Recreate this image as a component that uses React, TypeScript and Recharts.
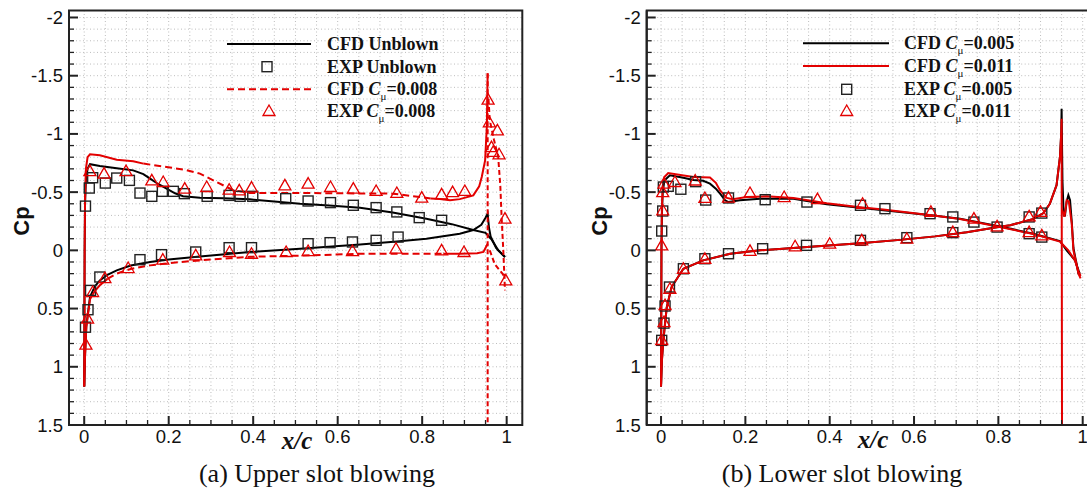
import React from "react";
import {
  ComposedChart,
  Line,
  Scatter,
  XAxis,
  YAxis,
  CartesianGrid,
  ReferenceArea,
} from "recharts";

// ---- axes ----
const X_TICKS = [0, 0.05, 0.1, 0.15, 0.2, 0.25, 0.3, 0.35, 0.4, 0.45, 0.5, 0.55, 0.6, 0.65, 0.7, 0.75, 0.8, 0.85, 0.9, 0.95, 1];
const X_LABELS = [0, 0.2, 0.4, 0.6, 0.8, 1];
const Y_TICKS = [
  -2, -1.9, -1.8, -1.7, -1.6, -1.5, -1.4, -1.3, -1.2, -1.1, -1, -0.9, -0.8, -0.7, -0.6, -0.5, -0.4, -0.3, -0.2, -0.1,
  0, 0.1, 0.2, 0.3, 0.4, 0.5, 0.6, 0.7, 0.8, 0.9, 1, 1.1, 1.2, 1.3, 1.4, 1.5,
];
const Y_LABELS = [-2, -1.5, -1, -0.5, 0, 0.5, 1, 1.5];
const Y_DOMAIN: [number, number] = [-2.06, 1.5];

// ---- (a) upper slot blowing : [x/c, Cp] ----
const cfdUnblownUpper = [
  [0, 1.17], [0.0005, 0.6], [0.001, 0], [0.002, -0.4], [0.004, -0.6], [0.008, -0.7], [0.0137, -0.74], [0.037, -0.724],
  [0.077, -0.705], [0.116, -0.687], [0.14, -0.655], [0.156, -0.616], [0.175, -0.57], [0.195, -0.53], [0.215, -0.49],
  [0.234, -0.465], [0.274, -0.452], [0.33, -0.447], [0.392, -0.438], [0.45, -0.42], [0.511, -0.4], [0.58, -0.385],
  [0.653, -0.365], [0.73, -0.325], [0.81, -0.272], [0.87, -0.225], [0.921, -0.175], [0.95, -0.15], [0.965, -0.09],
  [0.98, 0], [0.996, 0.057],
];
const cfdUnblownLower = [
  [0, 1.17], [0.002, 0.9], [0.005, 0.65], [0.0137, 0.4], [0.025, 0.31], [0.037, 0.258], [0.055, 0.21], [0.077, 0.172],
  [0.11, 0.13], [0.156, 0.1], [0.2, 0.078], [0.274, 0.052], [0.392, 0.015], [0.511, -0.014], [0.653, -0.05],
  [0.74, -0.075], [0.81, -0.1], [0.889, -0.143], [0.921, -0.175], [0.94, -0.22], [0.95, -0.28], [0.955, -0.315],
  [0.958, -0.2], [0.962, -0.12], [0.975, -0.02], [0.996, 0.057],
];
const cfdBlownUpperSolidA = [
  [0, 1.17], [0.0005, 0.6], [0.001, 0], [0.002, -0.45], [0.004, -0.7], [0.008, -0.8], [0.0137, -0.825], [0.037, -0.816],
  [0.077, -0.779], [0.116, -0.765], [0.14, -0.745],
];
const cfdBlownUpperDashed = [
  [0.14, -0.745], [0.195, -0.716], [0.24, -0.69], [0.274, -0.659], [0.313, -0.587], [0.353, -0.516], [0.392, -0.493],
  [0.511, -0.493], [0.6, -0.49], [0.731, -0.487], [0.795, -0.458], [0.82, -0.445],
];
const cfdBlownUpperSolidB = [
  [0.82, -0.445], [0.842, -0.44], [0.866, -0.43], [0.889, -0.44], [0.921, -0.472], [0.935, -0.55], [0.941, -0.63],
  [0.949, -0.773], [0.953, -1.06], [0.955, -1.52],
];
const cfdBlownSlotEdge = [[0.955, -1.52], [0.955, 1.6]];
const cfdBlownLowerSolidA = [
  [0, 1.17], [0.002, 0.9], [0.005, 0.66], [0.0137, 0.42], [0.025, 0.35], [0.037, 0.3], [0.055, 0.245],
];
const cfdBlownLowerDashed = [
  [0.055, 0.245], [0.077, 0.2], [0.11, 0.16], [0.156, 0.129], [0.2, 0.11], [0.274, 0.086], [0.392, 0.055],
  [0.511, 0.045], [0.653, 0.03], [0.85, 0.029],
];
const cfdBlownLowerSolidB = [[0.85, 0.029], [0.889, 0.029], [0.93, 0.025], [0.945, 0.014], [0.955, -0.057]];
const cfdBlownFlapUpper = [
  [0.957, -1.3], [0.96, -1.117], [0.97, -0.95], [0.98, -0.8], [0.985, -0.55], [0.988, -0.287], [0.992, 0], [0.996, 0.344],
];
const cfdBlownFlapLower = [[0.96, 0], [0.972, 0.12], [0.99, 0.2], [0.997, 0.24]];

const expUnblown = [
  [0.003, -0.38], [0.012, -0.535], [0.02, -0.624], [0.05, -0.578], [0.077, -0.621], [0.107, -0.601], [0.132, -0.492],
  [0.16, -0.464], [0.185, -0.507], [0.211, -0.507], [0.237, -0.487], [0.291, -0.464], [0.343, -0.472], [0.369, -0.464],
  [0.399, -0.464], [0.477, -0.444], [0.53, -0.424], [0.583, -0.41], [0.637, -0.387], [0.691, -0.367], [0.74, -0.33],
  [0.793, -0.281], [0.846, -0.258],
  [0.003, 0.66], [0.009, 0.51], [0.015, 0.344], [0.037, 0.229], [0.132, 0.08], [0.183, 0.037], [0.264, 0.014],
  [0.343, -0.023], [0.396, -0.023], [0.53, -0.057], [0.582, -0.066], [0.635, -0.072], [0.691, -0.086], [0.743, -0.114],
];
const expBlown = [
  [0.0135, -0.68], [0.047, -0.659], [0.099, -0.681], [0.16, -0.601], [0.187, -0.587], [0.238, -0.53], [0.29, -0.544],
  [0.343, -0.521], [0.367, -0.515], [0.396, -0.539], [0.475, -0.558], [0.53, -0.573], [0.583, -0.544], [0.637, -0.53],
  [0.691, -0.51], [0.74, -0.493], [0.799, -0.453], [0.846, -0.481], [0.872, -0.5], [0.901, -0.51],
  [0.956, -1.294], [0.959, -1.1], [0.978, -1.03], [0.964, -0.887], [0.968, -0.845], [0.982, -0.825], [0.996, -0.272],
  [0.004, 0.81], [0.008, 0.587], [0.02, 0.358], [0.049, 0.238], [0.104, 0.152], [0.186, 0.08], [0.264, 0.043],
  [0.344, 0.014], [0.396, 0.029], [0.478, 0.014], [0.53, 0.006], [0.635, 0.006], [0.738, -0.014], [0.846, 0],
  [0.899, 0.014], [0.998, 0.258],
];

// ---- (b) lower slot blowing ----
const cfd005A = [
  [0, 1.17], [0.0005, 0.6], [0.001, 0], [0.002, -0.3], [0.004, -0.5], [0.008, -0.6], [0.021, -0.644], [0.05, -0.625],
  [0.077, -0.605], [0.1, -0.598], [0.116, -0.573], [0.13, -0.53], [0.14, -0.487], [0.152, -0.43], [0.16, -0.415],
  [0.187, -0.43], [0.235, -0.444], [0.314, -0.444], [0.393, -0.395], [0.472, -0.365], [0.527, -0.345], [0.646, -0.3],
  [0.709, -0.272], [0.804, -0.205], [0.883, -0.143], [0.946, -0.08], [0.962, 0], [0.982, 0.086], [0.99, 0.172],
  [0.993, 0.2],
];
const cfd005B = [
  [0, 1.17], [0.002, 0.95], [0.0055, 0.773], [0.0095, 0.63], [0.0135, 0.49], [0.025, 0.315], [0.053, 0.158],
  [0.1, 0.086], [0.164, 0.029], [0.235, 0], [0.33, -0.025], [0.472, -0.06], [0.567, -0.09], [0.65, -0.12],
  [0.725, -0.155], [0.8, -0.2], [0.828, -0.215], [0.883, -0.27], [0.907, -0.32], [0.922, -0.4], [0.938, -0.56],
  [0.946, -0.8], [0.949, -1], [0.95, -1.217], [0.952, -0.6], [0.955, -0.3], [0.958, -0.3], [0.962, -0.42],
  [0.966, -0.473], [0.97, -0.43], [0.974, -0.25], [0.978, -0.02], [0.985, 0.11], [0.99, 0.2], [0.993, 0.21],
];
const cfd011A = [
  [0, 1.17], [0.0005, 0.6], [0.001, 0], [0.002, -0.35], [0.004, -0.55], [0.008, -0.63], [0.017, -0.664], [0.05, -0.645],
  [0.077, -0.63], [0.116, -0.625], [0.13, -0.58], [0.14, -0.515], [0.156, -0.45], [0.17, -0.44], [0.203, -0.458],
  [0.25, -0.464], [0.314, -0.45], [0.393, -0.405], [0.472, -0.37], [0.527, -0.35], [0.646, -0.3], [0.709, -0.27],
  [0.804, -0.2], [0.883, -0.14], [0.946, -0.075], [0.966, 0], [0.982, 0.09], [0.99, 0.18], [0.995, 0.22],
];
const cfd011B = [
  [0, 1.17], [0.002, 0.95], [0.0055, 0.773], [0.0095, 0.63], [0.0135, 0.49], [0.025, 0.315], [0.053, 0.158],
  [0.1, 0.086], [0.164, 0.029], [0.235, 0], [0.33, -0.025], [0.472, -0.06], [0.567, -0.09], [0.65, -0.12],
  [0.725, -0.155], [0.8, -0.2], [0.828, -0.215], [0.883, -0.27], [0.907, -0.32], [0.922, -0.4], [0.938, -0.56],
  [0.946, -0.8], [0.949, -1], [0.95, -1.13], [0.951, 1.7],
];
const cfd011Flap = [
  [0.951, -0.35], [0.957, -0.29], [0.962, -0.43], [0.967, -0.42], [0.974, -0.23], [0.978, 0], [0.985, 0.115],
  [0.99, 0.2], [0.995, 0.24],
];
const exp005 = [
  [0.0016, -0.166], [0.004, -0.338], [0.0055, -0.544], [0.017, -0.55], [0.047, -0.525], [0.082, -0.59], [0.106, -0.432],
  [0.16, -0.45], [0.247, -0.435], [0.346, -0.415], [0.473, -0.387], [0.531, -0.358], [0.638, -0.315], [0.692, -0.287],
  [0.742, -0.243], [0.797, -0.2], [0.873, -0.143], [0.903, -0.114],
  [0.0016, 0.773], [0.007, 0.625], [0.0095, 0.478], [0.02, 0.315], [0.053, 0.158], [0.104, 0.072], [0.16, 0.029],
  [0.241, -0.014], [0.345, -0.043], [0.473, -0.086], [0.583, -0.109], [0.692, -0.152], [0.873, -0.287], [0.903, -0.32],
];
const exp011 = [
  [0.0016, -0.043], [0.004, -0.344], [0.004, -0.5], [0.007, -0.573], [0.033, -0.587], [0.081, -0.6], [0.104, -0.45],
  [0.16, -0.453], [0.211, -0.493], [0.292, -0.458], [0.371, -0.44], [0.478, -0.4], [0.64, -0.33], [0.742, -0.272],
  [0.797, -0.206], [0.873, -0.157], [0.903, -0.129],
  [0.0016, 0.77], [0.007, 0.616], [0.0095, 0.47], [0.021, 0.33], [0.053, 0.158], [0.104, 0.072], [0.211, 0.005],
  [0.318, -0.035], [0.4, -0.057], [0.476, -0.086], [0.583, -0.1], [0.692, -0.157], [0.873, -0.292], [0.9, -0.33],
];

const pts = (a: number[][]) => a.map(([x, cp]) => ({ x, cp }));

const BLACK = "#000";
const RED = "#e30000";
const AXIS = "#222";
const SANS = "'Liberation Sans', Arial, sans-serif";
const SERIF = "'Liberation Serif', 'Times New Roman', serif";
const DASH = "7 4";

const near = (list: number[], v: number) => list.some((t) => Math.abs(t - v) < 1e-9);

const YTick = (props: any) => {
  const { x, y, payload } = props;
  const major = near(Y_LABELS, payload.value);
  return (
    <g>
      <line x1={x} x2={x + (major ? 9 : 5)} y1={y} y2={y} stroke={AXIS} strokeWidth={major ? 2 : 1.3} />
      {major && (
        <text x={x - 6} y={y + 6.5} textAnchor="end" fontFamily={SANS} fontSize={18.5} fill="#111">
          {String(payload.value)}
        </text>
      )}
    </g>
  );
};

const XTick = (props: any) => {
  const { x, y, payload } = props;
  const major = near(X_LABELS, payload.value);
  return (
    <g>
      <line x1={x} x2={x} y1={y} y2={y - (major ? 9 : 5)} stroke={AXIS} strokeWidth={major ? 2 : 1.3} />
      {major && (
        <text x={x} y={y + 18} textAnchor="middle" fontFamily={SANS} fontSize={18.5} fill="#111">
          {String(payload.value)}
        </text>
      )}
    </g>
  );
};

const SquareMark = (p: any) => (
  <rect x={p.cx - 5} y={p.cy - 5} width={10} height={10} fill="none" stroke="#222" strokeWidth={1.4} />
);
const TriangleMark = (p: any) => (
  <path d={`M${p.cx},${p.cy - 6} L${p.cx + 6},${p.cy + 4.5} L${p.cx - 6},${p.cy + 4.5} Z`} fill="none" stroke={RED} strokeWidth={1.3} />
);

type Curve = { d: number[][]; color: string; dash?: string };

function Panel({
  width,
  left,
  right,
  xDomain,
  curves,
  squares,
  triangles,
}: {
  width: number;
  left: number;
  right: number;
  xDomain: [number, number];
  curves: Curve[];
  squares: number[][];
  triangles: number[][];
}) {
  // axis boxes are 1px wide/tall so they render; margins are reduced by the same amount
  return (
    <ComposedChart width={width} height={495} margin={{ top: 10.5, right, bottom: 69, left: left - 1 }}>
      <CartesianGrid stroke="#bdbdbd" strokeDasharray="1 2.5" strokeWidth={1} />
      <ReferenceArea
        x1={xDomain[0]}
        x2={xDomain[1]}
        y1={Y_DOMAIN[0]}
        y2={Y_DOMAIN[1]}
        ifOverflow="visible"
        fill="none"
        fillOpacity={0}
        stroke={AXIS}
        strokeWidth={2}
      />
      <XAxis
        dataKey="x"
        type="number"
        domain={xDomain}
        allowDataOverflow
        ticks={X_TICKS}
        interval={0}
        height={1}
        tickSize={0}
        tickMargin={0}
        tick={<XTick />}
        tickLine={false}
        axisLine={{ stroke: AXIS, strokeWidth: 2 }}
      />
      <YAxis
        dataKey="cp"
        type="number"
        reversed
        domain={Y_DOMAIN}
        allowDataOverflow
        ticks={Y_TICKS}
        interval={0}
        width={1}
        tickSize={0}
        tickMargin={0}
        tick={<YTick />}
        tickLine={false}
        axisLine={{ stroke: AXIS, strokeWidth: 2 }}
      />
      {curves.map((c, i) => (
        <Line
          key={i}
          data={pts(c.d)}
          dataKey="cp"
          type="linear"
          stroke={c.color}
          strokeWidth={2}
          strokeDasharray={c.dash}
          dot={false}
          activeDot={false}
          isAnimationActive={false}
        />
      ))}
      <Scatter data={pts(squares)} dataKey="cp" shape={SquareMark} isAnimationActive={false} />
      <Scatter data={pts(triangles)} dataKey="cp" shape={TriangleMark} isAnimationActive={false} />
    </ComposedChart>
  );
}

const Cmu = ({ value }: { value: string }) => (
  <>
    <tspan fontStyle="italic">C</tspan>
    <tspan fontSize={11} dy={5} fontWeight="normal">μ</tspan>
    <tspan dy={-5}>{value}</tspan>
  </>
);

export default function App() {
  const legendText = { fontFamily: SERIF, fontWeight: "bold" as const, fontSize: 18, fill: "#111" };
  return (
    <div style={{ position: "absolute", left: 0, top: 0, width: 1087, height: 495, overflow: "hidden", background: "#fff" }}>
      <div style={{ position: "absolute", left: 0, top: 0 }}>
        <Panel
          width={540}
          left={69}
          right={17.7}
          xDomain={[-0.036, 1.037]}
          curves={[
            { d: cfdUnblownUpper, color: BLACK },
            { d: cfdUnblownLower, color: BLACK },
            { d: cfdBlownUpperSolidA, color: RED },
            { d: cfdBlownUpperDashed, color: RED, dash: DASH },
            { d: cfdBlownUpperSolidB, color: RED },
            { d: cfdBlownSlotEdge, color: RED, dash: "5 3" },
            { d: cfdBlownLowerSolidA, color: RED },
            { d: cfdBlownLowerDashed, color: RED, dash: DASH },
            { d: cfdBlownLowerSolidB, color: RED },
            { d: cfdBlownFlapUpper, color: RED, dash: "5 3" },
            { d: cfdBlownFlapLower, color: RED, dash: "5 3" },
          ]}
          squares={expUnblown}
          triangles={expBlown}
        />
      </div>
      <div style={{ position: "absolute", left: 560, top: 0 }}>
        <Panel
          width={560}
          left={86.7}
          right={21.7}
          xDomain={[-0.034, 1.037]}
          curves={[
            { d: cfd005A, color: BLACK },
            { d: cfd005B, color: BLACK },
            { d: cfd011A, color: RED },
            { d: cfd011B, color: RED },
            { d: cfd011Flap, color: RED },
          ]}
          squares={exp005}
          triangles={exp011}
        />
      </div>
      <svg width={1087} height={495} style={{ position: "absolute", left: 0, top: 0, pointerEvents: "none" }}>
        {/* axis titles */}
        <text transform="translate(29,221) rotate(-90)" textAnchor="middle" fontFamily={SANS} fontWeight="bold" fontSize={22} fill="#111">Cp</text>
        <text transform="translate(607,221) rotate(-90)" textAnchor="middle" fontFamily={SANS} fontWeight="bold" fontSize={22} fill="#111">Cp</text>
        <text x={297} y={449} textAnchor="middle" fontFamily={SERIF} fontWeight="bold" fontStyle="italic" fontSize={25} fill="#111">x/c</text>
        <text x={873} y={448} textAnchor="middle" fontFamily={SERIF} fontWeight="bold" fontStyle="italic" fontSize={25} fill="#111">x/c</text>
        <text x={317} y={482} textAnchor="middle" fontFamily={SERIF} fontSize={26} fill="#111">(a) Upper slot blowing</text>
        <text x={842} y={482} textAnchor="middle" fontFamily={SERIF} fontSize={26} fill="#111">(b) Lower slot blowing</text>

        {/* legend (a) */}
        <line x1={227} x2={311} y1={44} y2={44} stroke={BLACK} strokeWidth={2} />
        <rect x={262} y={61.7} width={10} height={10} fill="none" stroke="#222" strokeWidth={1.4} />
        <line x1={227} x2={311} y1={89.3} y2={89.3} stroke={RED} strokeWidth={2} strokeDasharray={DASH} />
        <path d="M269,105 L275,115.5 L263,115.5 Z" fill="none" stroke={RED} strokeWidth={1.3} />
        <text x={327} y={50} {...legendText}>CFD Unblown</text>
        <text x={327} y={72.7} {...legendText}>EXP Unblown</text>
        <text x={327} y={95.3} {...legendText}>CFD <Cmu value="=0.008" /></text>
        <text x={327} y={117} {...legendText}>EXP <Cmu value="=0.008" /></text>

        {/* legend (b) */}
        <line x1={803} x2={889} y1={43.3} y2={43.3} stroke={BLACK} strokeWidth={2} />
        <line x1={803} x2={889} y1={66} y2={66} stroke={RED} strokeWidth={2} />
        <rect x={841.7} y={84.3} width={10} height={10} fill="none" stroke="#222" strokeWidth={1.4} />
        <path d="M846.7,105 L852.7,115.5 L840.7,115.5 Z" fill="none" stroke={RED} strokeWidth={1.3} />
        <text x={904} y={49.3} {...legendText}>CFD <Cmu value="=0.005" /></text>
        <text x={904} y={72} {...legendText}>CFD <Cmu value="=0.011" /></text>
        <text x={904} y={95.3} {...legendText}>EXP <Cmu value="=0.005" /></text>
        <text x={904} y={117} {...legendText}>EXP <Cmu value="=0.011" /></text>
      </svg>
    </div>
  );
}
